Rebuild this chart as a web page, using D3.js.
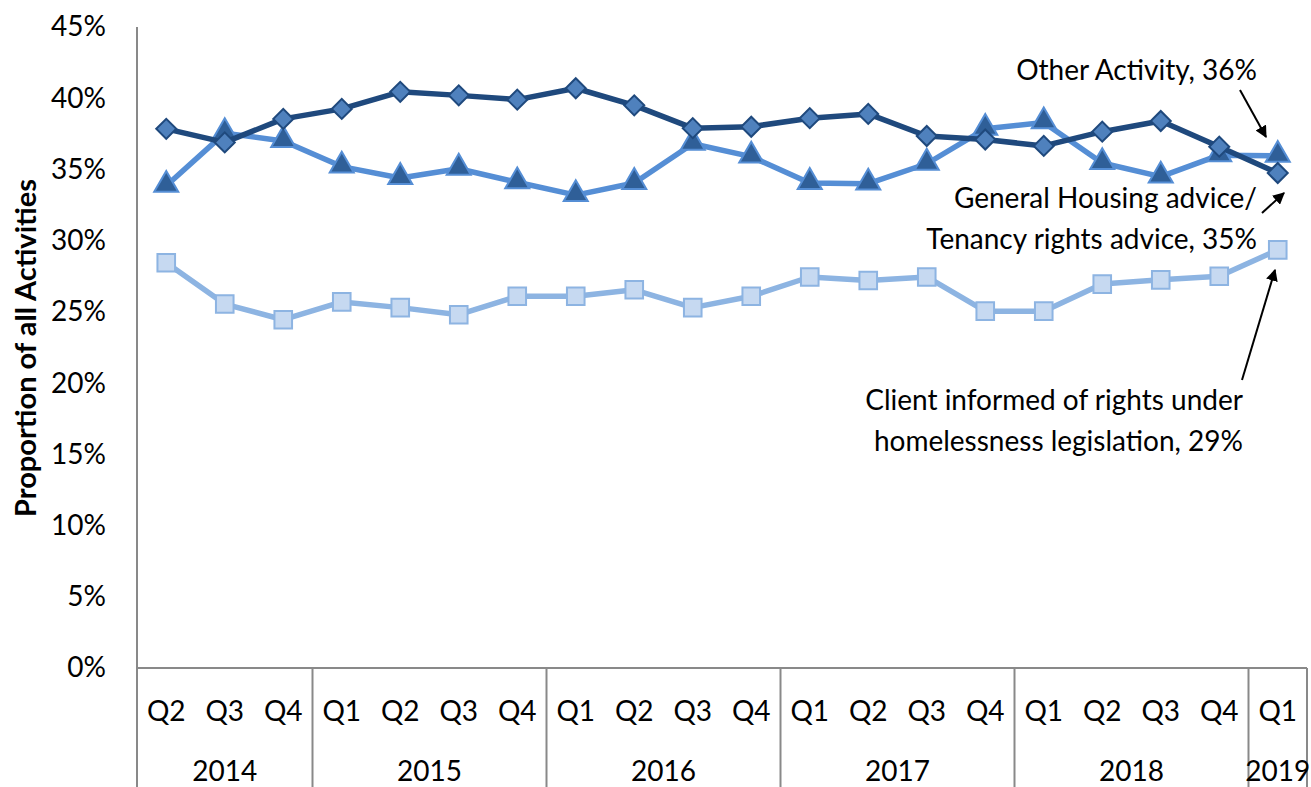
<!DOCTYPE html>
<html><head><meta charset="utf-8">
<script src="https://cdn.jsdelivr.net/npm/d3@7"></script>
<style>
body{margin:0;background:#fff;}
text{font-family:Lato,"Open Sans",sans-serif;}
</style></head>
<body><svg id="c" width="1311" height="787"></svg>
<script>
const quarters = ["Q2","Q3","Q4","Q1","Q2","Q3","Q4","Q1","Q2","Q3","Q4","Q1","Q2","Q3","Q4","Q1","Q2","Q3","Q4","Q1"];
const years = [["2014",3],["2015",4],["2016",4],["2017",4],["2018",4],["2019",1]];
const yTicks = [0,5,10,15,20,25,30,35,40,45];
const generalHousing = [37.85,36.9,38.55,39.25,40.45,40.2,39.9,40.7,39.5,37.9,38.0,38.6,38.9,37.35,37.1,36.65,37.65,38.4,36.6,34.75];
const otherActivity = [33.85,37.55,37.0,35.2,34.4,35.05,34.1,33.2,34.05,36.8,35.9,34.05,34.0,35.4,37.85,38.3,35.45,34.5,36.0,35.95];
const clientInformed = [28.45,25.55,24.45,25.7,25.3,24.8,26.1,26.1,26.55,25.3,26.1,27.45,27.2,27.45,25.05,25.05,26.95,27.25,27.5,29.35];

(function(){
const svg = d3.select("#c");
const pL=137, pR=1307, pT=27, pB=668;
const FS=28;
const idx = d3.range(quarters.length);
const x = d3.scaleBand().domain(idx).range([pL,pR]);
const y = d3.scaleLinear().domain([0,45]).range([pB,pT]);
const cx = i => x(i)+x.bandwidth()/2;
const axisCol="#898989";

// y axis
const ya = svg.append("g").attr("transform",`translate(${pL},0)`)
  .call(d3.axisLeft(y).tickValues(yTicks).tickFormat(d=>d+"%").tickSize(0).tickPadding(31));
ya.select(".domain").remove();
ya.selectAll("text").attr("font-size",FS).attr("fill","#000").attr("font-family","Lato");
svg.append("line").attr("x1",pL).attr("x2",pL).attr("y1",pT).attr("y2",787).attr("stroke",axisCol).attr("stroke-width",2);

// x axis
svg.append("line").attr("x1",pL).attr("x2",pR).attr("y1",pB).attr("y2",pB).attr("stroke",axisCol).attr("stroke-width",2);
const xa = svg.append("g").attr("transform",`translate(0,${pB})`)
  .call(d3.axisBottom(x).tickFormat(i=>quarters[i]).tickSize(0).tickPadding(33));
xa.select(".domain").remove();
xa.selectAll("text").attr("font-size",FS).attr("fill","#000").attr("font-family","Lato");
let start=0;
years.forEach(([yr,n])=>{
  const x0 = x(start), x1 = x(start+n-1)+x.bandwidth();
  svg.append("line").attr("x1",x1).attr("x2",x1).attr("y1",pB).attr("y2",787).attr("stroke",axisCol).attr("stroke-width",2);
  svg.append("text").attr("x",(x0+x1)/2).attr("y",781).attr("text-anchor","middle").attr("font-size",FS).text(yr);
  start+=n;
});

// y title
svg.append("text").attr("transform","translate(36,348) rotate(-90)").attr("text-anchor","middle")
  .attr("font-size",29).attr("font-weight","bold").text("Proportion of all Activities");

const line = d3.line().x((d,i)=>cx(i)).y(d=>y(d));
function series(data, lineCol, fill, stroke, shape, size, dy, rot){
  svg.append("path").datum(data).attr("d",line).attr("fill","none").attr("stroke",lineCol).attr("stroke-width",5.5).attr("stroke-linejoin","round");
  svg.selectAll(null).data(data).enter().append("path")
    .attr("d", d3.symbol().type(shape).size(size))
    .attr("transform",(d,i)=>`translate(${cx(i)},${y(d)+dy}) rotate(${rot})`)
    .attr("fill",fill).attr("stroke",stroke).attr("stroke-width",2);
}
series(clientInformed,"#8DB4E2","#C6D9F1","#8DB4E2",d3.symbolSquare,310,0,0);
series(otherActivity,"#558ED5","#2F5F98","#558ED5",d3.symbolTriangle,250,-1,0);
series(generalHousing,"#1F497D","#4F81BD","#1F497D",d3.symbolSquare,200,0,45);

// annotations
const defs = svg.append("defs");
defs.append("marker").attr("id","ah").attr("viewBox","0 0 10 10").attr("refX",9).attr("refY",5)
  .attr("markerWidth",6).attr("markerHeight",6).attr("orient","auto")
  .append("path").attr("d","M0,0L10,5L0,10z").attr("fill","#000");
function arrow(x1,y1,x2,y2){
  svg.append("line").attr("x1",x1).attr("y1",y1).attr("x2",x2).attr("y2",y2)
    .attr("stroke","#000").attr("stroke-width",2).attr("marker-end","url(#ah)");
}
const ann = [
  {lines:["Other Activity, 36%"], x:1257, y:80},
  {lines:["General Housing advice/","Tenancy rights advice, 35%"], x:1257, y:208},
  {lines:["Client informed of rights under","homelessness legislation, 29%"], x:1243, y:410}
];
ann.forEach(a=>{
  const t = svg.append("text").attr("text-anchor","end").attr("font-size",FS);
  a.lines.forEach((l,i)=>t.append("tspan").attr("x",a.x).attr("y",a.y+i*41).text(l));
});
arrow(1240,90,1266,137);
arrow(1262,213,1284,193);
arrow(1242,380,1275,270);
})();
</script></body></html>
